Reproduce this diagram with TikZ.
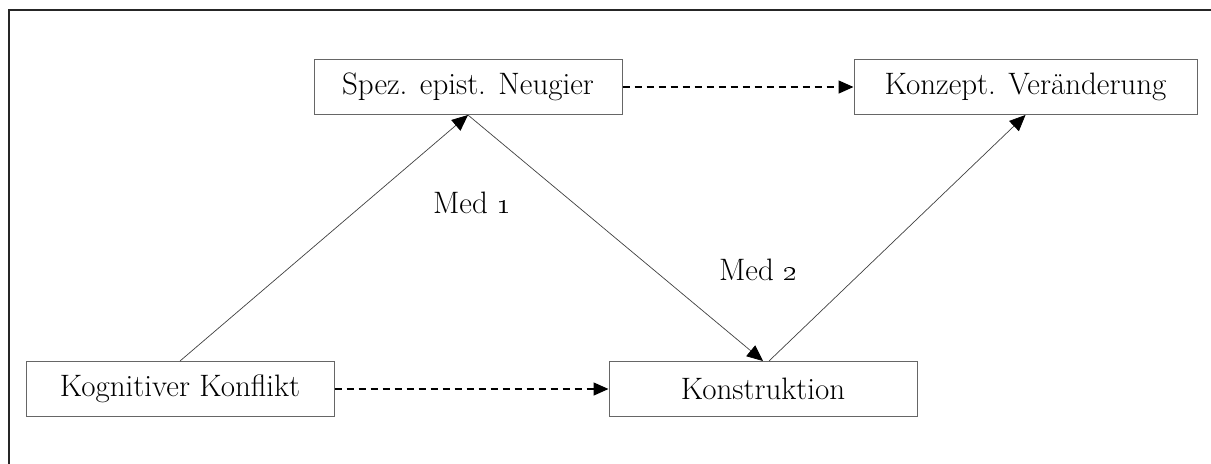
\documentclass[tikz,border=0pt]{standalone}
\usetikzlibrary{arrows.meta}
\begin{document}
\begin{tikzpicture}[x=0.5pt,y=-0.5pt,
  box/.style={draw=black!60,line width=0.5pt,fill=white,minimum height=27.5pt,inner sep=0pt,font=\fontsize{15.5}{18}\selectfont},
  conn/.style={draw=black!75,line width=0.35pt,-{Triangle[length=8pt,width=7pt,color=black,fill=black]}},
  dconn/.style={draw=black,line width=0.75pt,dash pattern=on 3.5pt off 2.5pt,-{Triangle[length=7.5pt,width=6.5pt]}},
  lbl/.style={font=\fontsize{15.5}{18}\selectfont}]
\useasboundingbox (0,0) rectangle (1211,463);
\draw[line width=1pt,black!85] (9,470) -- (9,9.5) -- (1220,9.5);
\node[box,minimum width=154pt] (kk) at (180,389) {Kognitiver Konflikt};
\node[box,minimum width=154pt] (ko) at (763,389) {Konstruktion};
\node[box,minimum width=154pt] (sp) at (468,87) {Spez. epist. Neugier};
\node[box,minimum width=171.5pt] (kv) at (1025.5,87) {Konzept. Veränderung};
\coordinate (kon) at ([xshift=3pt]ko.north);
\draw[conn] (kk.north) -- (sp.south);
\draw[conn] (sp.south) -- (ko.north);
\draw[conn] (kon) -- (kv.south);
\draw[dconn] (kk.east) -- (ko.west);
\draw[dconn] (sp.east) -- (kv.west);
\node[lbl] (m1) at (472,203) {Med \oldstylenums{1}};
\node[lbl] (m2) at (758,270) {Med \oldstylenums{2}};
\end{tikzpicture}
\end{document}
